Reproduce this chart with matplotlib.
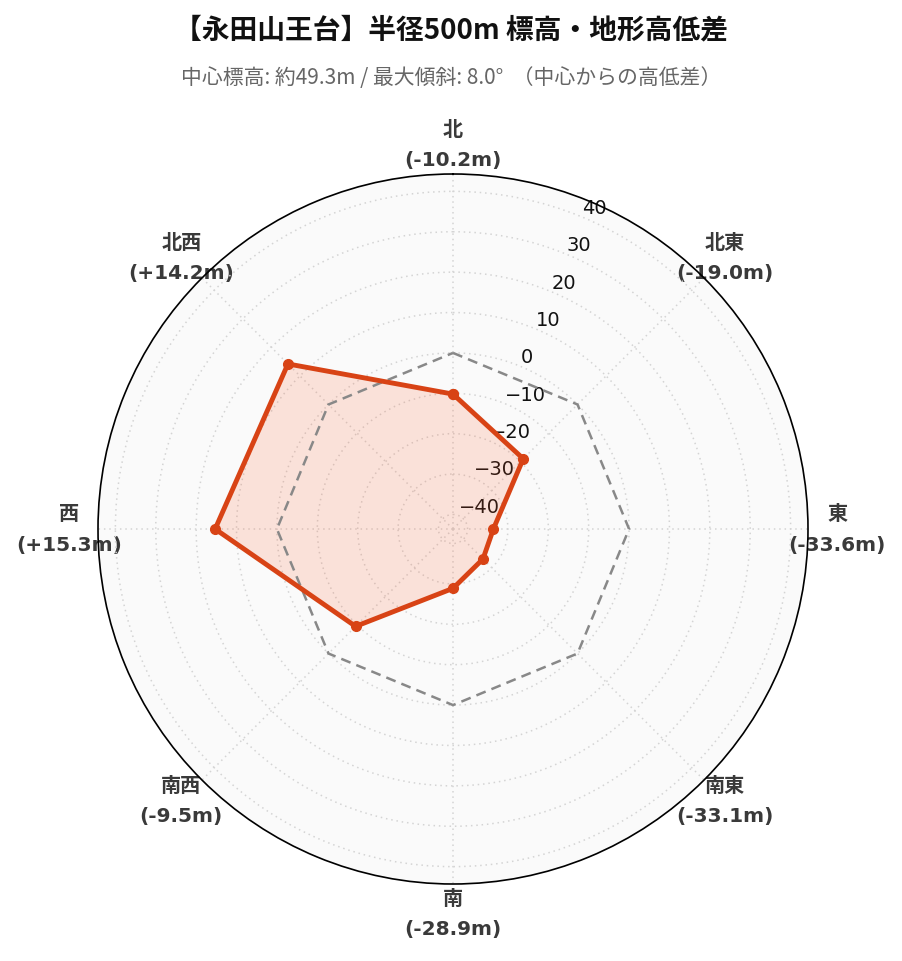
import numpy as np
import matplotlib
matplotlib.use("Agg")
import matplotlib.pyplot as plt

plt.rcParams['font.family'] = ['DejaVu Sans', 'Noto Sans CJK JP']

# data
directions = ["北", "北東", "東", "南東", "南", "南西", "西", "北西"]
diffs = [-10.2, -19.0, -33.6, -33.1, -28.9, -9.5, 15.3, 14.2]
rticks = [-40, -30, -20, -10, 0, 10, 20, 30, 40]
r_range = [-43.6, 44.3]
title = "【永田山王台】半径500m 標高・地形高低差"
subtitle = "中心標高: 約49.3m / 最大傾斜: 8.0°  （中心からの高低差）"

line_col = "#d84315"
fill_col = "#ff5722"

fig = plt.figure(figsize=(9.03, 9.62), dpi=100)
ax = fig.add_axes([98/903, 77/962, 710/903, 710/962], projection='polar')
ax.set_theta_zero_location('N')
ax.set_theta_direction(-1)
ax.set_facecolor('#fafafa')

angles = np.deg2rad(np.arange(len(directions)) * 45.0)
ang_c = np.append(angles, angles[0])
vals_c = np.append(diffs, diffs[0])

# reference line (0 m = center elevation)
ax.plot(ang_c, np.zeros(len(ang_c)), color='#888888', lw=1.8, ls=(0, (4, 2.5)), zorder=3)

ax.fill(ang_c, vals_c, color=fill_col, alpha=0.15, lw=0, zorder=2)
ax.plot(ang_c, vals_c, color=line_col, lw=3.5, marker='o', ms=7, zorder=4)

ax.set_ylim(r_range)
ax.set_yticks(rticks)
ax.set_yticklabels([str(t).replace('-', '\u2212') for t in rticks], fontsize=14, color='#111111')
ax.set_rlabel_position(22.5)

labels = [f"{d}\n({v:+.1f}m)" if v > 0 else f"{d}\n({v:.1f}m)" for d, v in zip(directions, diffs)]
ax.set_xticks(angles)
ax.set_xticklabels(labels, fontsize=14.5, fontweight='bold', color='#3a3a3a', linespacing=1.75)
ax.tick_params(axis='x', pad=10.5)

ax.grid(True, color='#d4d4d4', ls=(0, (1, 2.5)), lw=1.1)
ax.spines['polar'].set_color('black')
ax.spines['polar'].set_linewidth(1.2)

cjk = ['Noto Sans CJK JP', 'DejaVu Sans']
fig.text(0.5, 1 - 30/962, title, ha='center', va='center', fontsize=20, fontweight='bold',
         color='#111111', family=cjk)
fig.text(0.5, 1 - 78/962, subtitle, ha='center', va='center', fontsize=15,
         color='#666666', family=cjk)

fig.savefig('out.png', dpi=100)
